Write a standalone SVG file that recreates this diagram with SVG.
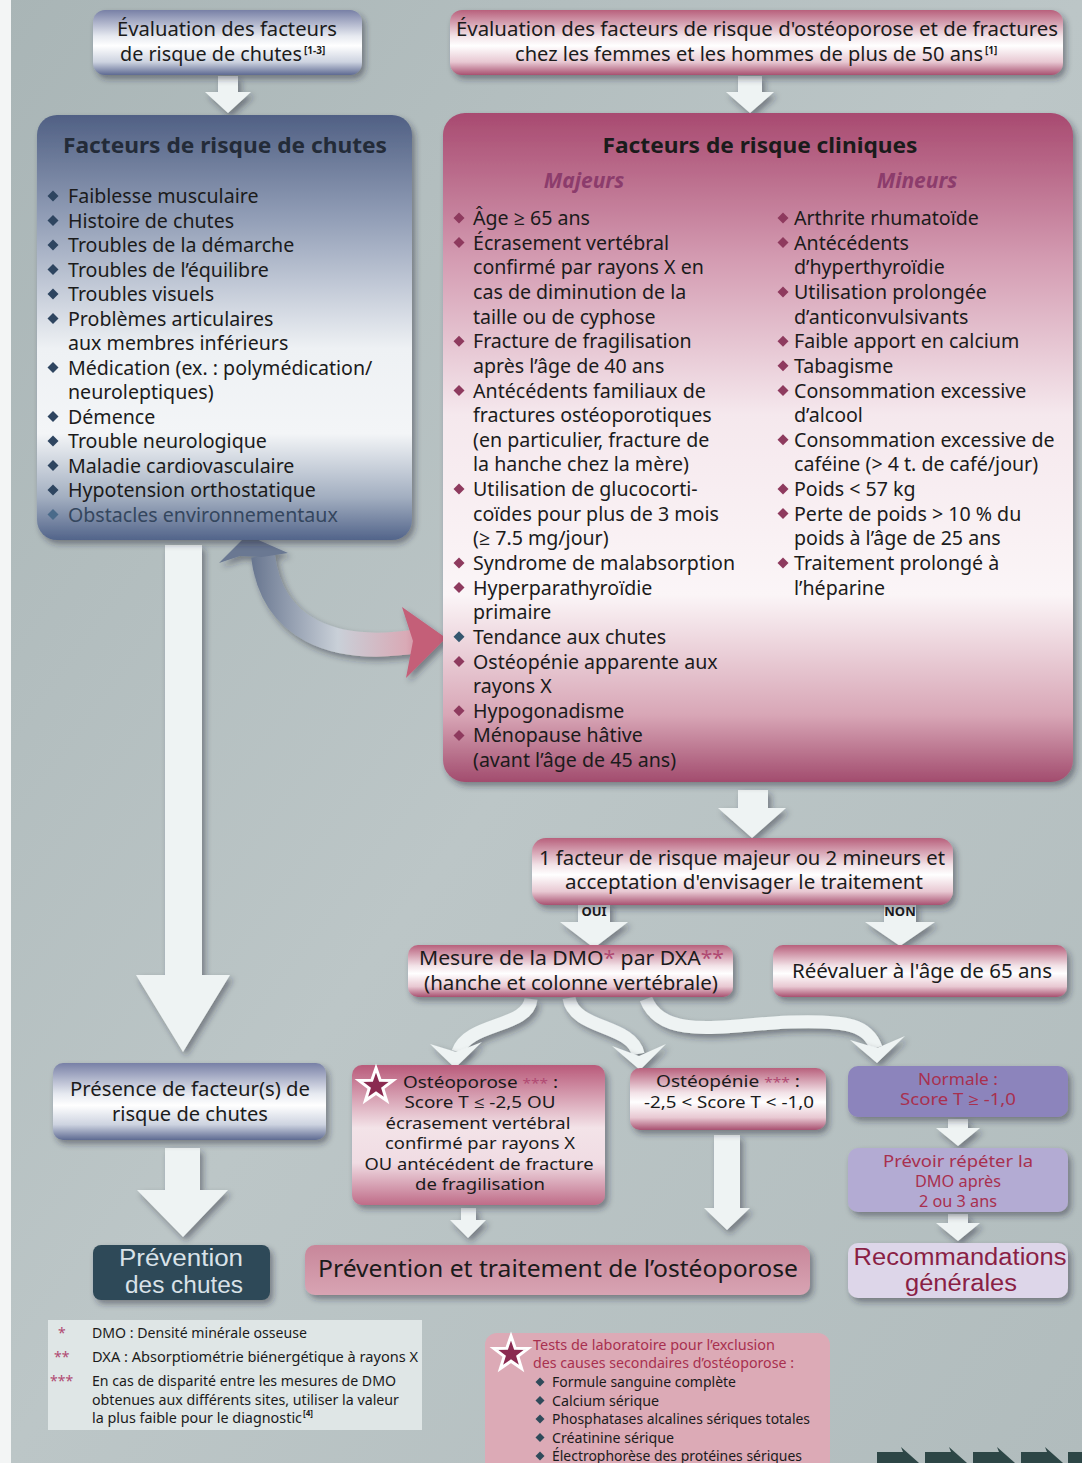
<svg xmlns="http://www.w3.org/2000/svg" width="1082" height="1463" viewBox="0 0 1082 1463">
<defs>
<style>
.t{font-family:"Noto Sans","Open Sans","Liberation Sans",sans-serif;fill:#1b1b1b}
.ls{font-family:"Liberation Sans",Arial,sans-serif}
.it{font-size:19.6px}
.ti{font-size:22px;font-weight:bold}
.sm{font-size:16px}
.pk{fill:#b04a72}
.rd{fill:#a8304f}
.arw{fill:#eef3f3;filter:url(#sh)}
.fn{font-size:14px}
.fr{font-size:14.5px}
</style>
<filter id="sh" x="-20%" y="-20%" width="150%" height="150%">
<feDropShadow dx="3" dy="4" stdDeviation="3" flood-color="#223" flood-opacity="0.45"/>
</filter>
<linearGradient id="bg" x1="0" y1="0" x2="1" y2="1">
<stop offset="0" stop-color="#a9b5b6"/><stop offset="0.5" stop-color="#bcc6c7"/><stop offset="1" stop-color="#b1bcbd"/>
</linearGradient>
<linearGradient id="gBlueS" x1="0" y1="0" x2="0" y2="1">
<stop offset="0" stop-color="#7880a6"/><stop offset="0.4" stop-color="#e6e9f0"/><stop offset="0.55" stop-color="#ffffff"/><stop offset="0.8" stop-color="#cdd3e0"/><stop offset="1" stop-color="#5e6a92"/>
</linearGradient>
<linearGradient id="gPinkS" x1="0" y1="0" x2="0" y2="1">
<stop offset="0" stop-color="#b8607c"/><stop offset="0.4" stop-color="#f2e2e7"/><stop offset="0.55" stop-color="#ffffff"/><stop offset="0.8" stop-color="#e8c8d2"/><stop offset="1" stop-color="#a85070"/>
</linearGradient>
<linearGradient id="gBlueL" x1="0" y1="0" x2="0" y2="1">
<stop offset="0" stop-color="#506084"/><stop offset="0.25" stop-color="#94a0b8"/><stop offset="0.55" stop-color="#eef1f4"/><stop offset="0.75" stop-color="#f3f5f7"/><stop offset="0.9" stop-color="#a2aec0"/><stop offset="1" stop-color="#52648a"/>
</linearGradient>
<linearGradient id="gPinkL" x1="0" y1="0" x2="0" y2="1">
<stop offset="0" stop-color="#a84a70"/><stop offset="0.22" stop-color="#d49cb2"/><stop offset="0.45" stop-color="#f5e8ed"/><stop offset="0.72" stop-color="#fbf5f7"/><stop offset="0.9" stop-color="#d8a6b6"/><stop offset="1" stop-color="#a24c6e"/>
</linearGradient>
<linearGradient id="gOsteo" x1="0" y1="0" x2="0" y2="1">
<stop offset="0" stop-color="#b95a7a"/><stop offset="0.45" stop-color="#f3e3e8"/><stop offset="0.7" stop-color="#f0dce3"/><stop offset="1" stop-color="#bf6c88"/>
</linearGradient>
<linearGradient id="gPrev" x1="0" y1="0" x2="0" y2="1">
<stop offset="0" stop-color="#c8879a"/><stop offset="1" stop-color="#d8a4b3"/>
</linearGradient>
<linearGradient id="gCurve" gradientUnits="userSpaceOnUse" x1="250" y1="0" x2="445" y2="0">
<stop offset="0" stop-color="#66748e"/><stop offset="0.45" stop-color="#c9d0d8"/><stop offset="0.8" stop-color="#d9aab6"/><stop offset="1" stop-color="#c45e78"/>
</linearGradient>
<path id="dia" d="M0,-5.5 L5.5,0 L0,5.5 L-5.5,0Z"/>
<path id="diaS" d="M0,-4.5 L4.5,0 L0,4.5 L-4.5,0Z"/>
<path id="star" d="M0,-18 L4.2,-5.8 L17.1,-5.6 L6.8,2.2 L10.6,14.6 L0,7.2 L-10.6,14.6 L-6.8,2.2 L-17.1,-5.6 L-4.2,-5.8Z"/>
</defs>

<rect x="0" y="0" width="1082" height="1463" fill="url(#bg)"/>
<rect x="0" y="0" width="11" height="1463" fill="#f3f5f5"/>

<g id="connectors">
<polygon class="arw" points="218,76 238,76 238,92 251,92 228,113 205,92 218,92"/>
<polygon class="arw" points="738,76 762,76 762,92 774,92 750,113 726,92 738,92"/>
<polygon class="arw" points="165,545 202,545 202,975 230,975 183,1052 136,975 165,975"/>
<polygon class="arw" points="738,790 768,790 768,808 786,808 752,838 718,808 738,808"/>
<polygon class="arw" points="578,903 610,903 610,922 628,922 594,948 560,922 578,922"/>
<polygon class="arw" points="884,903 916,903 916,922 935,922 900,946 865,922 884,922"/>
<g filter="url(#sh)" fill="none" stroke="#eef3f3" stroke-width="13">
<path d="M531 999 C 528 1028, 468 1022, 458 1052"/>
<path d="M569 998 C 574 1030, 632 1024, 638 1054"/>
<path d="M646 999 C 662 1042, 730 1024, 790 1022 S 868 1026, 876 1048"/>
</g>
<g fill="#eef3f3" filter="url(#sh)">
<path d="M430,1044 L455,1068 L482,1042 L456,1052Z"/>
<path d="M612,1046 L640,1070 L666,1044 L639,1056Z"/>
<path d="M850,1040 L877,1063 L905,1036 L877,1048Z"/>
</g>
<polygon class="arw" points="165,1148 200,1148 200,1190 228,1190 183,1237 137,1190 165,1190"/>
<polygon class="arw" points="461,1208 476,1208 476,1220 486,1220 468,1238 450,1220 461,1220"/>
<polygon class="arw" points="714,1135 740,1135 740,1208 750,1208 727,1230 704,1208 714,1208"/>
<polygon class="arw" points="948,1119 968,1119 968,1128 980,1128 958,1146 936,1128 948,1128"/>
<polygon class="arw" points="948,1214 968,1214 968,1223 980,1223 958,1241 936,1223 948,1223"/>
<g filter="url(#sh)">
<path d="M263 556 C 272 628, 332 655, 418 641" fill="none" stroke="url(#gCurve)" stroke-width="24"/>
<path d="M247,535 L219,563 L240,556 L262,557 L288,553Z" fill="#6a7892"/>
<path d="M446,638 L402,607 L413,641 L406,678Z" fill="#c45e78"/>
</g>
<text class="t" x="594" y="916" text-anchor="middle" font-size="13" font-weight="bold">OUI</text>
<text class="t" x="900" y="916" text-anchor="middle" font-size="13" font-weight="bold">NON</text>
</g>

<g id="evalChutes">
<rect x="93" y="10" width="269" height="65" rx="12" fill="url(#gBlueS)" filter="url(#sh)"/>
<text class="t" x="227" y="36" text-anchor="middle" font-size="19" textLength="220" lengthAdjust="spacingAndGlyphs">Évaluation des facteurs</text>
<text class="t" x="120" y="61" font-size="19" textLength="182" lengthAdjust="spacingAndGlyphs">de risque de chutes</text>
<text class="t" x="304" y="53.5" font-size="10" font-weight="bold">[1-3]</text>
</g>

<g id="evalOsteo">
<rect x="450" y="10" width="613" height="65" rx="12" fill="url(#gPinkS)" filter="url(#sh)"/>
<text class="t" x="757" y="36" text-anchor="middle" font-size="19" textLength="602" lengthAdjust="spacingAndGlyphs">Évaluation des facteurs de risque d'ostéoporose et de fractures</text>
<text class="t" x="515" y="61" font-size="19" textLength="468" lengthAdjust="spacingAndGlyphs">chez les femmes et les hommes de plus de 50 ans</text>
<text class="t" x="985" y="53.5" font-size="10" font-weight="bold">[1]</text>
</g>

<g id="facteursChutes">
<rect x="37" y="115" width="375" height="425" rx="20" fill="url(#gBlueL)" filter="url(#sh)"/>
<text class="t ti" x="225" y="153" text-anchor="middle" style="fill:#232b38" textLength="324" lengthAdjust="spacingAndGlyphs">Facteurs de risque de chutes</text>
<g fill="#2e4560">
<use href="#dia" x="53" y="196"/><use href="#dia" x="53" y="220.5"/><use href="#dia" x="53" y="245"/><use href="#dia" x="53" y="269.5"/><use href="#dia" x="53" y="294"/><use href="#dia" x="53" y="318.5"/><use href="#dia" x="53" y="367.5"/><use href="#dia" x="53" y="416.5"/><use href="#dia" x="53" y="441"/><use href="#dia" x="53" y="465.5"/><use href="#dia" x="53" y="490"/><use href="#dia" x="53" y="514.5" fill="#4a6a8a"/>
</g>
<text class="t it">
<tspan x="68" y="203">Faiblesse musculaire</tspan>
<tspan x="68" y="227.5">Histoire de chutes</tspan>
<tspan x="68" y="252">Troubles de la démarche</tspan>
<tspan x="68" y="276.5">Troubles de l’équilibre</tspan>
<tspan x="68" y="301">Troubles visuels</tspan>
<tspan x="68" y="325.5">Problèmes articulaires</tspan>
<tspan x="68" y="350">aux membres inférieurs</tspan>
<tspan x="68" y="374.5">Médication (ex. : polymédication/</tspan>
<tspan x="68" y="399">neuroleptiques)</tspan>
<tspan x="68" y="423.5">Démence</tspan>
<tspan x="68" y="448">Trouble neurologique</tspan>
<tspan x="68" y="472.5">Maladie cardiovasculaire</tspan>
<tspan x="68" y="497">Hypotension orthostatique</tspan>
<tspan x="68" y="521.5" style="fill:#34465e">Obstacles environnementaux</tspan>
</text>
</g>

<g id="facteursCliniques">
<rect x="443" y="113" width="630" height="669" rx="22" fill="url(#gPinkL)" filter="url(#sh)"/>
<text class="t ti" x="760" y="153" text-anchor="middle" textLength="315" lengthAdjust="spacingAndGlyphs">Facteurs de risque cliniques</text>
<text class="t" x="584" y="188" text-anchor="middle" font-size="21" font-weight="bold" font-style="italic" style="fill:#8c3c6c">Majeurs</text>
<text class="t" x="917" y="188" text-anchor="middle" font-size="21" font-weight="bold" font-style="italic" style="fill:#8c3c6c">Mineurs</text>
<g fill="#8e3a5e">
<use href="#dia" x="459" y="218"/><use href="#dia" x="459" y="242.6"/><use href="#dia" x="459" y="341.2"/><use href="#dia" x="459" y="390.5"/><use href="#dia" x="459" y="489"/><use href="#dia" x="459" y="562.9"/><use href="#dia" x="459" y="587.5"/><use href="#dia" x="459" y="636.8" fill="#34566e"/><use href="#dia" x="459" y="661.5"/><use href="#dia" x="459" y="710.7"/><use href="#dia" x="459" y="735.4"/>
<use href="#dia" x="783" y="218"/><use href="#dia" x="783" y="242.6"/><use href="#dia" x="783" y="291.9"/><use href="#dia" x="783" y="341.2"/><use href="#dia" x="783" y="365.8"/><use href="#dia" x="783" y="390.5"/><use href="#dia" x="783" y="439.7"/><use href="#dia" x="783" y="489"/><use href="#dia" x="783" y="513.6"/><use href="#dia" x="783" y="562.9"/>
</g>
<text class="t it">
<tspan x="473" y="225">Âge ≥ 65 ans</tspan>
<tspan x="473" y="249.6">Écrasement vertébral</tspan>
<tspan x="473" y="274.3">confirmé par rayons X en</tspan>
<tspan x="473" y="298.9">cas de diminution de la</tspan>
<tspan x="473" y="323.5">taille ou de cyphose</tspan>
<tspan x="473" y="348.2">Fracture de fragilisation</tspan>
<tspan x="473" y="372.8">après l’âge de 40 ans</tspan>
<tspan x="473" y="397.5">Antécédents familiaux de</tspan>
<tspan x="473" y="422.1">fractures ostéoporotiques</tspan>
<tspan x="473" y="446.7">(en particulier, fracture de</tspan>
<tspan x="473" y="471.4">la hanche chez la mère)</tspan>
<tspan x="473" y="496">Utilisation de glucocorti-</tspan>
<tspan x="473" y="520.6">coïdes pour plus de 3 mois</tspan>
<tspan x="473" y="545.3">(≥ 7.5 mg/jour)</tspan>
<tspan x="473" y="569.9">Syndrome de malabsorption</tspan>
<tspan x="473" y="594.5">Hyperparathyroïdie</tspan>
<tspan x="473" y="619.2">primaire</tspan>
<tspan x="473" y="643.8">Tendance aux chutes</tspan>
<tspan x="473" y="668.5">Ostéopénie apparente aux</tspan>
<tspan x="473" y="693.1">rayons X</tspan>
<tspan x="473" y="717.7">Hypogonadisme</tspan>
<tspan x="473" y="742.4">Ménopause hâtive</tspan>
<tspan x="473" y="767">(avant l’âge de 45 ans)</tspan>
</text>
<text class="t it">
<tspan x="794" y="225">Arthrite rhumatoïde</tspan>
<tspan x="794" y="249.6">Antécédents</tspan>
<tspan x="794" y="274.3">d’hyperthyroïdie</tspan>
<tspan x="794" y="298.9">Utilisation prolongée</tspan>
<tspan x="794" y="323.5">d’anticonvulsivants</tspan>
<tspan x="794" y="348.2">Faible apport en calcium</tspan>
<tspan x="794" y="372.8">Tabagisme</tspan>
<tspan x="794" y="397.5">Consommation excessive</tspan>
<tspan x="794" y="422.1">d’alcool</tspan>
<tspan x="794" y="446.7">Consommation excessive de</tspan>
<tspan x="794" y="471.4">caféine (&gt;  4 t. de café/jour)</tspan>
<tspan x="794" y="496">Poids &lt; 57 kg</tspan>
<tspan x="794" y="520.6">Perte de poids &gt; 10 % du</tspan>
<tspan x="794" y="545.3">poids à l’âge de 25 ans</tspan>
<tspan x="794" y="569.9">Traitement prolongé à</tspan>
<tspan x="794" y="594.5">l’héparine</tspan>
</text>
</g>

<g id="decision">
<rect x="532" y="838" width="421" height="67" rx="14" fill="url(#gPinkS)" filter="url(#sh)"/>
<text class="t" x="742" y="865" text-anchor="middle" font-size="19" textLength="406" lengthAdjust="spacingAndGlyphs">1 facteur de risque majeur ou 2 mineurs et</text>
<text class="t" x="744" y="889" text-anchor="middle" font-size="19" textLength="358" lengthAdjust="spacingAndGlyphs">acceptation d'envisager le traitement</text>
</g>

<g id="mesureDMO">
<rect x="408" y="945" width="325" height="52" rx="10" fill="url(#gPinkS)" filter="url(#sh)"/>
<text class="t" x="419" y="965" font-size="19" textLength="305" lengthAdjust="spacingAndGlyphs">Mesure de la DMO<tspan class="pk">*</tspan> par DXA<tspan class="pk">**</tspan></text>
<text class="t" x="571" y="990" text-anchor="middle" font-size="19" textLength="294" lengthAdjust="spacingAndGlyphs">(hanche et colonne vertébrale)</text>
</g>

<g id="reevaluer">
<rect x="773" y="945" width="294" height="52" rx="10" fill="url(#gPinkS)" filter="url(#sh)"/>
<text class="t" x="922" y="978" text-anchor="middle" font-size="19" textLength="260" lengthAdjust="spacingAndGlyphs">Réévaluer à l'âge de 65 ans</text>
</g>

<g id="presenceChutes">
<rect x="53" y="1063" width="273" height="77" rx="10" fill="url(#gBlueS)" filter="url(#sh)"/>
<text class="t" x="190" y="1096" text-anchor="middle" font-size="19" textLength="240" lengthAdjust="spacingAndGlyphs">Présence de facteur(s) de</text>
<text class="t" x="190" y="1121" text-anchor="middle" font-size="19" textLength="156" lengthAdjust="spacingAndGlyphs">risque de chutes</text>
</g>

<g id="osteoporose">
<rect x="352" y="1065" width="253" height="140" rx="10" fill="url(#gOsteo)" filter="url(#sh)"/>
<use href="#star" x="376" y="1086" fill="#8a2a50" stroke="#ffffff" stroke-width="3"/>
<text class="t sm" x="403" y="1088" textLength="155" lengthAdjust="spacingAndGlyphs">Ostéoporose <tspan class="pk" font-size="13">***</tspan> :</text>
<text class="t sm" x="480" y="1108.4" text-anchor="middle" textLength="151" lengthAdjust="spacingAndGlyphs">Score T ≤ -2,5 OU</text>
<text class="t sm" x="478" y="1128.8" text-anchor="middle" textLength="185" lengthAdjust="spacingAndGlyphs">écrasement vertébral</text>
<text class="t sm" x="480" y="1149.2" text-anchor="middle" textLength="190" lengthAdjust="spacingAndGlyphs">confirmé par rayons X</text>
<text class="t sm" x="479" y="1169.6" text-anchor="middle" textLength="229" lengthAdjust="spacingAndGlyphs">OU antécédent de fracture</text>
<text class="t sm" x="480" y="1190" text-anchor="middle" textLength="130" lengthAdjust="spacingAndGlyphs">de fragilisation</text>
</g>

<g id="osteopenie">
<rect x="630" y="1068" width="196" height="62" rx="10" fill="url(#gPinkS)" filter="url(#sh)"/>
<text class="t sm" x="656" y="1087" textLength="144" lengthAdjust="spacingAndGlyphs">Ostéopénie <tspan class="pk" font-size="13">***</tspan> :</text>
<text class="t sm" x="729" y="1108" text-anchor="middle" textLength="170" lengthAdjust="spacingAndGlyphs">-2,5 &lt; Score T &lt; -1,0</text>
</g>

<g id="normale">
<rect x="848" y="1066" width="220" height="51" rx="10" fill="#8c84bc" filter="url(#sh)"/>
<text class="t rd" x="958" y="1085" font-size="15.5" text-anchor="middle" textLength="80" lengthAdjust="spacingAndGlyphs">Normale :</text>
<text class="t rd" x="958" y="1105" font-size="15.5" text-anchor="middle" textLength="116" lengthAdjust="spacingAndGlyphs">Score T ≥ -1,0</text>
</g>

<g id="prevoir">
<rect x="848" y="1148" width="220" height="64" rx="10" fill="#b3abd3" filter="url(#sh)"/>
<text class="t rd" x="958" y="1167" font-size="15.5" text-anchor="middle" textLength="150" lengthAdjust="spacingAndGlyphs">Prévoir répéter la</text>
<text class="t rd" x="958" y="1187" font-size="15.5" text-anchor="middle" textLength="86" lengthAdjust="spacingAndGlyphs">DMO après</text>
<text class="t rd" x="958" y="1207" font-size="15.5" text-anchor="middle" textLength="78" lengthAdjust="spacingAndGlyphs">2 ou 3 ans</text>
</g>

<g id="recommandations">
<rect x="848" y="1243" width="220" height="55" rx="10" fill="#ddd6e9" filter="url(#sh)"/>
<text class="ls" x="960" y="1265" font-size="23" text-anchor="middle" style="fill:#8a1f45" textLength="213" lengthAdjust="spacingAndGlyphs">Recommandations</text>
<text class="ls" x="961" y="1291" font-size="23" text-anchor="middle" style="fill:#8a1f45" textLength="112" lengthAdjust="spacingAndGlyphs">générales</text>
</g>

<g id="preventionTraitement">
<rect x="305" y="1245" width="505" height="50" rx="10" fill="url(#gPrev)" filter="url(#sh)"/>
<text class="t" x="558" y="1277" text-anchor="middle" font-size="23" textLength="480" lengthAdjust="spacingAndGlyphs">Prévention et traitement de l’ostéoporose</text>
</g>

<g id="preventionChutes">
<rect x="93" y="1245" width="177" height="55" rx="8" fill="#2f4a58" filter="url(#sh)"/>
<text class="ls" x="181" y="1266" font-size="23" text-anchor="middle" style="fill:#d9e2e8" textLength="124" lengthAdjust="spacingAndGlyphs">Prévention</text>
<text class="ls" x="184" y="1293" font-size="23" text-anchor="middle" style="fill:#d9e2e8" textLength="118" lengthAdjust="spacingAndGlyphs">des chutes</text>
</g>

<g id="notes">
<rect x="48" y="1320" width="374" height="110" fill="#dfe6e6"/>
<text class="t fn pk" x="58" y="1338">*</text>
<text class="t fn pk" x="54" y="1362">**</text>
<text class="t fn pk" x="50" y="1386">***</text>
<text class="t fn">
<tspan x="92" y="1338" textLength="215" lengthAdjust="spacingAndGlyphs">DMO : Densité minérale osseuse</tspan>
<tspan x="92" y="1362" textLength="326" lengthAdjust="spacingAndGlyphs">DXA : Absorptiométrie biénergétique à rayons X</tspan>
<tspan x="92" y="1386" textLength="304" lengthAdjust="spacingAndGlyphs">En cas de disparité entre les mesures de DMO</tspan>
<tspan x="92" y="1404.5" textLength="307" lengthAdjust="spacingAndGlyphs">obtenues aux différents sites, utiliser la valeur</tspan>
<tspan x="92" y="1423" textLength="210" lengthAdjust="spacingAndGlyphs">la plus faible pour le diagnostic</tspan>
</text>
<text class="t" x="303" y="1416" font-size="8" font-weight="bold">[4]</text>
</g>

<g id="testsLabo">
<rect x="485" y="1333" width="345" height="140" rx="12" fill="#dcaab6"/>
<use href="#star" x="511" y="1354" fill="#8a2a50" stroke="#ffffff" stroke-width="3"/>
<text class="t fr rd">
<tspan x="533" y="1350" textLength="242" lengthAdjust="spacingAndGlyphs">Tests de laboratoire pour l’exclusion</tspan>
<tspan x="533" y="1368" textLength="261" lengthAdjust="spacingAndGlyphs">des causes secondaires d’ostéoporose :</tspan>
</text>
<g fill="#2f4a5a">
<use href="#diaS" x="540" y="1382"/><use href="#diaS" x="540" y="1400.5"/><use href="#diaS" x="540" y="1419"/><use href="#diaS" x="540" y="1437.5"/><use href="#diaS" x="540" y="1456"/>
</g>
<text class="t fn">
<tspan x="552" y="1387" textLength="184" lengthAdjust="spacingAndGlyphs">Formule sanguine complète</tspan>
<tspan x="552" y="1405.5" textLength="107" lengthAdjust="spacingAndGlyphs">Calcium sérique</tspan>
<tspan x="552" y="1424" textLength="258" lengthAdjust="spacingAndGlyphs">Phosphatases alcalines sériques totales</tspan>
<tspan x="552" y="1442.5" textLength="122" lengthAdjust="spacingAndGlyphs">Créatinine sérique</tspan>
<tspan x="552" y="1461" textLength="250" lengthAdjust="spacingAndGlyphs">Électrophorèse des protéines sériques</tspan>
</text>
</g>

<g id="navArrows" fill="#2d4646">
<polygon points="877,1452 903,1452 901,1447 919,1463 877,1463"/>
<polygon points="925,1452 951,1452 949,1447 967,1463 925,1463"/>
<polygon points="973,1452 999,1452 997,1447 1015,1463 973,1463"/>
<polygon points="1021,1452 1047,1452 1045,1447 1063,1463 1021,1463"/>
<polygon points="1068,1452 1082,1452 1082,1463 1068,1463"/>
</g>
</svg>
